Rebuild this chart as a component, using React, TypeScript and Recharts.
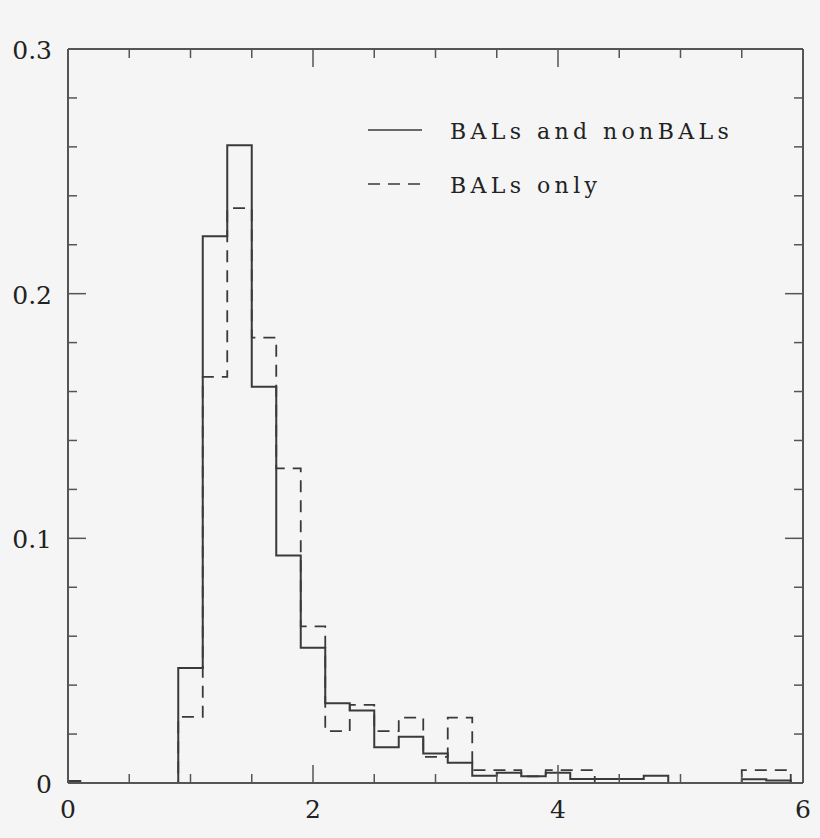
import React from "react";
import {
  ComposedChart,
  Line,
  XAxis,
  YAxis,
  Legend,
  ReferenceLine,
} from "recharts";

// left edge of each bin (last edge closes the histogram)
const binEdges = [
  0, 0.1, 0.3, 0.5, 0.7, 0.9, 1.1, 1.3, 1.5, 1.7, 1.9, 2.1, 2.3, 2.5, 2.7, 2.9,
  3.1, 3.3, 3.5, 3.7, 3.9, 4.1, 4.3, 4.5, 4.7, 4.9, 5.1, 5.3, 5.5, 5.7, 5.9,
];
const balsAndNonBals = [
  0.0008, 0, 0, 0, 0, 0.047, 0.2235, 0.2607, 0.162, 0.093, 0.0553, 0.0326,
  0.0296, 0.0146, 0.0189, 0.0121, 0.0083, 0.003, 0.0042, 0.0028, 0.0042, 0.0016,
  0.0016, 0.0016, 0.003, 0, 0, 0, 0.0015, 0.001, 0,
];
const balsOnly = [
  0, 0, 0, 0, 0, 0.027, 0.166, 0.235, 0.182, 0.1286, 0.064, 0.0212, 0.0319,
  0.0212, 0.0267, 0.0107, 0.0267, 0.0053, 0.0053, 0.0027, 0.0053, 0.0053, 0, 0,
  0, 0, 0, 0, 0.0053, 0.0053, 0,
];

const xTicks = [0, 0.5, 1, 1.5, 2, 2.5, 3, 3.5, 4, 4.5, 5, 5.5, 6];
const xLabelTicks = [0, 2, 4, 6];
const yTicks = [
  0, 0.02, 0.04, 0.06, 0.08, 0.1, 0.12, 0.14, 0.16, 0.18, 0.2, 0.22, 0.24,
  0.26, 0.28, 0.3,
];
const yLabelTicks = [0, 0.1, 0.2, 0.3];

const data = binEdges.map((x, i) => ({
  x,
  all: balsAndNonBals[i],
  bal: balsOnly[i],
}));

const INK = "#3a3a3a";
const FRAME = "#555";
const FONT = "'DejaVu Serif', serif";

const MARGIN = { top: 49, right: 17, bottom: 55, left: 68 };
const W = 820;
const H = 838;
const PLOT_TOP = MARGIN.top;
const PLOT_RIGHT = W - MARGIN.right;
const MINOR = 9;
const MAJOR = 18;

const XTick = ({ x, y, payload }: any) => {
  const v = payload.value;
  const labelled = xLabelTicks.includes(v);
  const edge = v === 0 || v === 6;
  const len = edge ? 0 : labelled ? MAJOR : MINOR;
  return (
    <g>
      {len > 0 && (
        <>
          <line x1={x} x2={x} y1={y} y2={y - len} stroke={FRAME} strokeWidth={1.5} />
          <line x1={x} x2={x} y1={PLOT_TOP} y2={PLOT_TOP + len} stroke={FRAME} strokeWidth={1.5} />
        </>
      )}
      {labelled && (
        <text x={x} y={y + 35} textAnchor="middle" fontFamily={FONT} fontSize={25} fill="#222">
          {v}
        </text>
      )}
    </g>
  );
};

const YTick = ({ x, y, payload }: any) => {
  const v = payload.value;
  const labelled = yLabelTicks.includes(v);
  const edge = v === 0 || v === 0.3;
  const len = edge ? 0 : labelled ? MAJOR : MINOR;
  return (
    <g>
      {len > 0 && (
        <>
          <line x1={x} x2={x + len} y1={y} y2={y} stroke={FRAME} strokeWidth={1.5} />
          <line x1={PLOT_RIGHT} x2={PLOT_RIGHT - len} y1={y} y2={y} stroke={FRAME} strokeWidth={1.5} />
        </>
      )}
      {labelled && (
        <text x={x - 16} y={y + 10} textAnchor="end" fontFamily={FONT} fontSize={25} fill="#222">
          {v === 0 ? "0" : v.toFixed(1)}
        </text>
      )}
    </g>
  );
};

const LegendBox = ({ payload }: any) => (
  <svg width={420} height={110}>
    {(payload || []).map((entry: any, i: number) => {
      const cy = 30 + i * 54;
      return (
        <g key={entry.value}>
          <line
            x1={8}
            x2={62}
            y1={cy}
            y2={cy}
            stroke={INK}
            strokeWidth={1.6}
            strokeDasharray={entry.payload?.strokeDasharray}
          />
          <text
            x={90}
            y={cy + 9}
            fontFamily={FONT}
            fontSize={22}
            letterSpacing={4.4}
            fill="#222"
          >
            {entry.value}
          </text>
        </g>
      );
    })}
  </svg>
);

export default function App() {
  return (
    <div
      style={{
        position: "absolute",
        left: 0,
        top: 0,
        width: W,
        height: H,
        background: "#f5f5f5",
      }}
    >
      <ComposedChart width={W} height={H} data={data} margin={{ ...MARGIN, bottom: MARGIN.bottom - 30, left: MARGIN.left - 60 }}>
        <XAxis
          dataKey="x"
          type="number"
          domain={[0, 6]}
          allowDataOverflow
          ticks={xTicks}
          interval={0}
          height={30}
          tickSize={0}
          tickMargin={0}
          tickLine={false}
          axisLine={{ stroke: FRAME, strokeWidth: 2 }}
          tick={<XTick />}
        />
        <YAxis
          type="number"
          domain={[0, 0.3]}
          allowDataOverflow
          ticks={yTicks}
          interval={0}
          width={60}
          tickSize={0}
          tickMargin={0}
          tickLine={false}
          axisLine={{ stroke: FRAME, strokeWidth: 2 }}
          tick={<YTick />}
        />
        <ReferenceLine y={0.3} stroke={FRAME} strokeWidth={2} />
        <ReferenceLine x={6} stroke={FRAME} strokeWidth={2} />

        <Legend
          layout="horizontal"
          verticalAlign="middle"
          width={420}
          height={110}
          wrapperStyle={{ left: 360, top: 100 }}
          content={<LegendBox />}
        />

        <Line
          type="stepAfter"
          dataKey="all"
          name="BALs and nonBALs"
          stroke={INK}
          strokeWidth={2}
          dot={false}
          activeDot={false}
          isAnimationActive={false}
        />
        <Line
          type="stepAfter"
          dataKey="bal"
          name="BALs only"
          stroke={INK}
          strokeWidth={1.8}
          strokeDasharray="12 8"
          dot={false}
          activeDot={false}
          isAnimationActive={false}
        />
      </ComposedChart>
    </div>
  );
}
